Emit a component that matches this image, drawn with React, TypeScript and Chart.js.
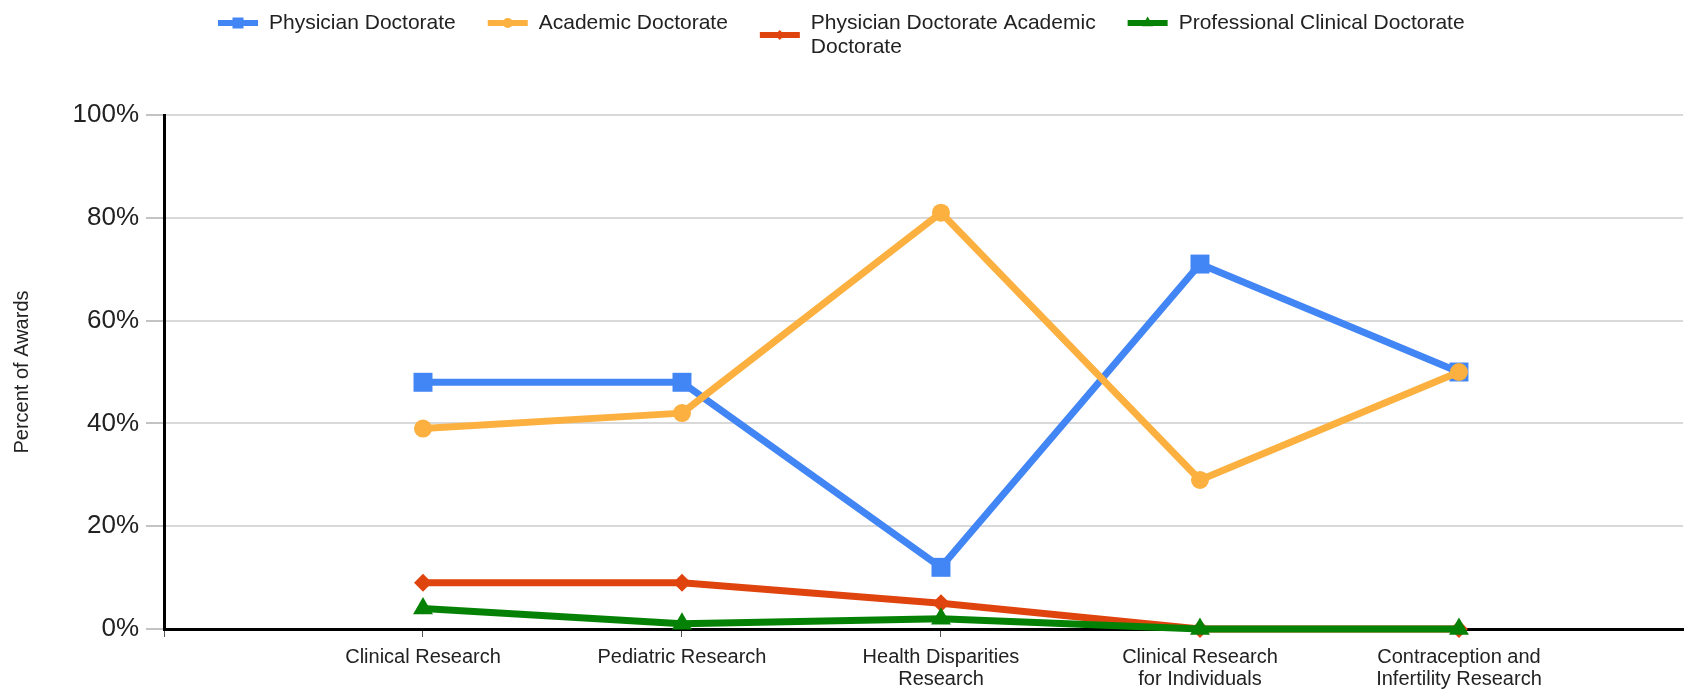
import React, { useEffect, useRef } from "react";
import { Chart, registerables } from "chart.js";

Chart.register(...registerables);

const FONT = '"Liberation Sans", Arial, Helvetica, sans-serif';

const categories: string[][] = [
  ["Clinical Research"],
  ["Pediatric Research"],
  ["Health Disparities", "Research"],
  ["Clinical Research", "for Individuals"],
  ["Contraception and", "Infertility Research"],
];
const seriesNames = [
  "Physician Doctorate",
  "Academic Doctorate",
  "Physician Doctorate Academic Doctorate",
  "Professional Clinical Doctorate",
];
const physicianDoctorate = [48, 48, 12, 71, 50];
const academicDoctorate = [39, 42, 81, 29, 50];
const physicianAcademicDoctorate = [9, 9, 5, 0, 0];
const professionalClinicalDoctorate = [4, 1, 2, 0, 0];
const yTicks = [0, 20, 40, 60, 80, 100];
const xTickValues = [-1, 0, 1, 2, 3, 4];

const seriesValues = [
  physicianDoctorate,
  academicDoctorate,
  physicianAcademicDoctorate,
  professionalClinicalDoctorate,
];
const seriesColors = ["#4285F4", "#FBB040", "#E0440E", "#058205"];
const seriesStyles = ["rect", "circle", "rectRot", "triangle"];
const seriesRadii = [13.4, 9, 9, 11.5];
const legendMarkerSizes = [5.5, 5, 5, 5.5];

function drawShape(ctx: CanvasRenderingContext2D, style: string, x: number, y: number, r: number) {
  ctx.beginPath();
  if (style === "rect") {
    ctx.rect(x - r, y - r, 2 * r, 2 * r);
  } else if (style === "circle") {
    ctx.arc(x, y, r, 0, Math.PI * 2);
  } else if (style === "rectRot") {
    ctx.moveTo(x, y - r);
    ctx.lineTo(x + r, y);
    ctx.lineTo(x, y + r);
    ctx.lineTo(x - r, y);
    ctx.closePath();
  } else {
    ctx.moveTo(x, y - r * 1.2);
    ctx.lineTo(x + r, y + r * 0.6);
    ctx.lineTo(x - r, y + r * 0.6);
    ctx.closePath();
  }
  ctx.fill();
}

function wrapText(ctx: CanvasRenderingContext2D, text: string, maxW: number): string[] {
  const words = text.split(" ");
  const lines: string[] = [];
  let cur = "";
  for (const w of words) {
    const test = cur ? cur + " " + w : w;
    if (ctx.measureText(test).width > maxW && cur) {
      lines.push(cur);
      cur = w;
    } else {
      cur = test;
    }
  }
  if (cur) lines.push(cur);
  return lines;
}

const legendPlugin = {
  id: "customLegend",
  afterDraw(chart: any) {
    const ctx: CanvasRenderingContext2D = chart.ctx;
    ctx.save();
    ctx.font = `21px ${FONT}`;
    ctx.textBaseline = "middle";
    ctx.textAlign = "left";
    let x = 218;
    const y = 23;
    const lineH = 24;
    chart.data.datasets.forEach((ds: any, i: number) => {
      const lines = wrapText(ctx, ds.label, 300);
      const my = y + ((lines.length - 1) * lineH) / 2;
      ctx.strokeStyle = ds.borderColor;
      ctx.fillStyle = ds.borderColor;
      ctx.lineWidth = 6;
      ctx.beginPath();
      ctx.moveTo(x, my);
      ctx.lineTo(x + 40, my);
      ctx.stroke();
      drawShape(ctx, ds.pointStyle, x + 20, my, legendMarkerSizes[i]);
      ctx.fillStyle = "#222222";
      let w = 0;
      lines.forEach((ln, j) => {
        ctx.fillText(ln, x + 51, y + j * lineH);
        w = Math.max(w, ctx.measureText(ln).width);
      });
      x += 51 + w + 32;
    });
    ctx.restore();
  },
};

export default function App() {
  const ref = useRef<HTMLCanvasElement | null>(null);

  useEffect(() => {
    if (!ref.current) return;
    Chart.defaults.font.family = FONT;
    const chart = new Chart(ref.current, {
      type: "line",
      data: {
        datasets: seriesValues.map((vals, i) => ({
          label: seriesNames[i],
          data: vals.map((v, k) => ({ x: k, y: v })),
          borderColor: seriesColors[i],
          backgroundColor: seriesColors[i],
          borderWidth: 7,
          borderJoinStyle: "round" as const,
          tension: 0,
          pointStyle: seriesStyles[i] as any,
          pointRadius: seriesRadii[i],
          pointHoverRadius: seriesRadii[i],
          pointBackgroundColor: seriesColors[i],
          pointBorderColor: seriesColors[i],
          pointBorderWidth: 0,
          clip: false as any,
          order: seriesValues.length - i,
          fill: false,
        })),
      },
      options: {
        animation: false,
        responsive: false,
        events: [],
        layout: { padding: { top: 115, right: 17, left: 0, bottom: 0 } },
        plugins: {
          legend: { display: false },
          tooltip: { enabled: false },
        },
        scales: {
          x: {
            type: "linear",
            min: -1,
            max: 4.865,
            z: 1,
            afterBuildTicks: (s: any) => {
              s.ticks = xTickValues.map((v) => ({ value: v }));
            },
            afterFit: (s: any) => {
              s.height = 60;
            },
            grid: {
              drawOnChartArea: false,
              drawTicks: true,
              tickLength: 8,
              tickColor: "#555555",
              tickWidth: 1,
            },
            border: { color: "#000000", width: 3 },
            ticks: {
              autoSkip: false,
              maxRotation: 0,
              minRotation: 0,
              padding: 9,
              color: "#222222",
              font: { size: 20, lineHeight: 1.125 },
              callback: (v: any) => (v >= 0 && categories[v] ? categories[v] : ""),
            },
          },
          y: {
            min: 0,
            max: 100,
            afterBuildTicks: (s: any) => {
              s.ticks = yTicks.map((v) => ({ value: v }));
            },
            afterFit: (s: any) => {
              s.width = 164;
            },
            grid: {
              color: "#d9d9d9",
              lineWidth: 2,
              tickColor: "#888888",
              tickLength: 18,
              tickWidth: 1,
            },
            border: { color: "#000000", width: 3 },
            ticks: {
              padding: 7,
              color: "#222222",
              font: { size: 26 },
              callback: (v: any) => v + "%",
            },
            title: {
              display: true,
              text: "Percent of Awards",
              color: "#222222",
              font: { size: 20 },
              padding: { top: 10, bottom: 0 },
            },
          },
        },
      },
      plugins: [legendPlugin],
    });
    return () => chart.destroy();
  }, []);

  return (
    <div style={{ position: "fixed", left: 0, top: 0, width: 1700, height: 689, background: "#ffffff" }}>
      <canvas ref={ref} width={1700} height={689} style={{ display: "block", width: 1700, height: 689 }} />
    </div>
  );
}
